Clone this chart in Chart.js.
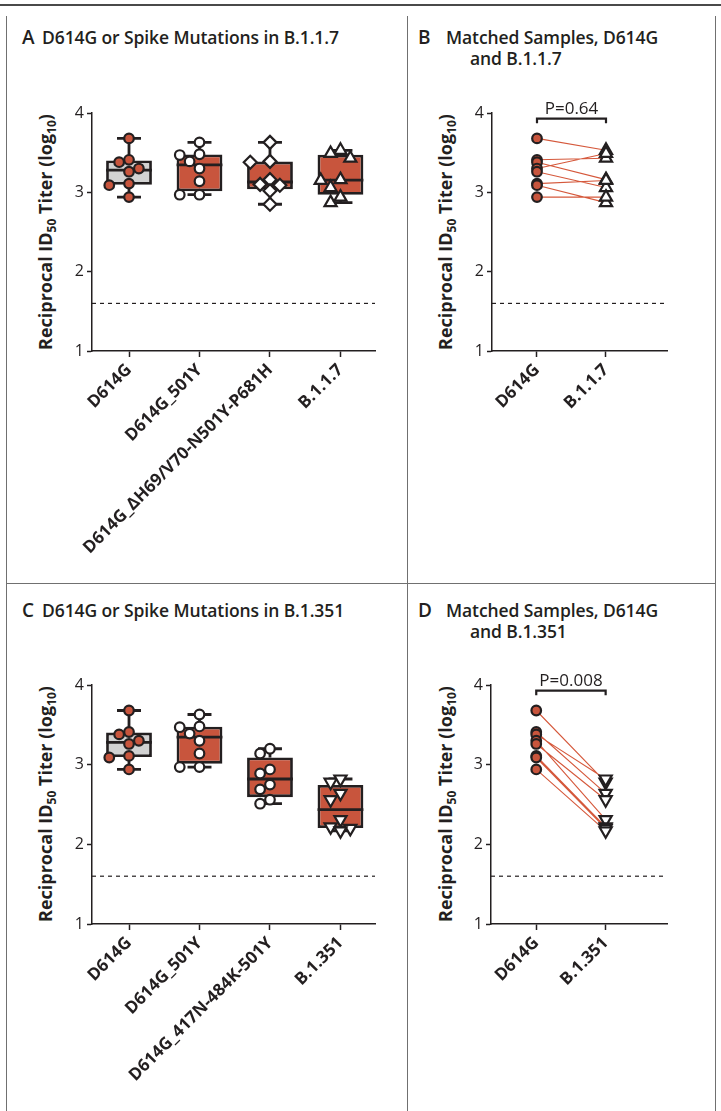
<!DOCTYPE html>
<html>
<head>
<meta charset="utf-8">
<script src="https://cdn.jsdelivr.net/npm/chart.js@4.4.1/dist/chart.umd.min.js"></script>
<style>
  html, body { margin: 0; padding: 0; background: #fff; }
  body { width: 721px; height: 1111px; position: relative; overflow: hidden; font-family: "Open Sans", sans-serif; color: #231f20; }
  .rule { position: absolute; left: 0; top: 4px; width: 721px; height: 2px; background: #4a4a4a; }
  .vline { position: absolute; top: 16px; width: 1px; height: 1095px; background: #707070; }
  .hline { position: absolute; left: 6px; top: 583px; width: 710px; height: 1px; background: #707070; }
  canvas { position: absolute; }
  .title { position: absolute; font-size: 17.5px; font-weight: 600; line-height: 21px; white-space: nowrap; letter-spacing: -0.1px; }
  .title .lt { display: inline-block; font-size: 19px; font-weight: 600; }
  .ylab { position: absolute; width: 300px; height: 22px; line-height: 22px; text-align: center;
          font-size: 18px; font-weight: 700; white-space: nowrap; transform: rotate(-90deg); }
  .ylab sub { font-size: 12px; vertical-align: -4px; line-height: 0; }
</style>
</head>
<body>
<div class="rule"></div>
<div class="vline" style="left:6px"></div>
<div class="vline" style="left:407px"></div>
<div class="vline" style="left:715px"></div>
<div class="hline"></div>

<div class="title" style="left:22px;top:27px"><span class="lt" style="width:20px">A</span>D614G or Spike Mutations in B.1.1.7</div>
<div class="title" style="left:418px;top:27px"><span class="lt" style="width:28px">B</span>Matched Samples, D614G<br><span style="padding-left:52px">and B.1.1.7</span></div>
<div class="title" style="left:22px;top:600px"><span class="lt" style="width:20px">C</span>D614G or Spike Mutations in B.1.351</div>
<div class="title" style="left:418px;top:600px"><span class="lt" style="width:28px">D</span>Matched Samples, D614G<br><span style="padding-left:52px">and B.1.351</span></div>

<div class="ylab" style="left:-105px;top:221px">Reciprocal ID<sub>50</sub> Titer (log<sub>10</sub>)</div>
<div class="ylab" style="left:295px;top:221px">Reciprocal ID<sub>50</sub> Titer (log<sub>10</sub>)</div>
<div class="ylab" style="left:-105px;top:793px">Reciprocal ID<sub>50</sub> Titer (log<sub>10</sub>)</div>
<div class="ylab" style="left:295px;top:793px">Reciprocal ID<sub>50</sub> Titer (log<sub>10</sub>)</div>

<canvas id="chartA" width="401" height="567" style="left:6px;top:16px"></canvas>
<canvas id="chartB" width="309" height="567" style="left:407px;top:16px"></canvas>
<canvas id="chartC" width="401" height="528" style="left:6px;top:583px"></canvas>
<canvas id="chartD" width="309" height="528" style="left:407px;top:583px"></canvas>

<script>
// categories
const groupsA = ['D614G', 'D614G_501Y', 'D614G_\u0394H69/V70-N501Y-P681H', 'B.1.1.7'];
const groupsC = ['D614G', 'D614G_501Y', 'D614G_417N-484K-501Y', 'B.1.351'];
const pairB = ['D614G', 'B.1.1.7'];
const pairD = ['D614G', 'B.1.351'];

// log10 reciprocal ID50 per serum sample, same sample order in every array
const d614g = [3.68, 3.41, 3.38, 3.30, 3.26, 3.11, 3.09, 2.94];
const d614g501y = [3.63, 3.48, 3.47, 3.39, 3.30, 3.14, 2.97, 2.97];
const d614gDel69 = [3.63, 3.39, 3.38, 3.16, 3.10, 3.09, 3.02, 2.85];
const b117 = [3.53, 3.43, 3.16, 3.49, 3.06, 3.15, 2.87, 2.94];
const d614g417n = [3.20, 3.14, 2.94, 2.89, 2.75, 2.69, 2.56, 2.51];
const b1351 = [2.78, 2.64, 2.82, 2.31, 2.56, 2.22, 2.20, 2.17];

const detectionLimit = 1.6;
const yTicks = [1, 2, 3, 4];
const pTextB = 'P=0.64';
const pTextD = 'P=0.008';

const ink = '#231f20';
const red = '#c8553d';
const grey = '#d2d2d2';
const pairRed = '#d5583b';

Chart.defaults.font.family = '"Open Sans", sans-serif';
Chart.defaults.color = ink;

// Prism-style percentile (n+1 basis)
function quantile(sorted, p) {
  const pos = p * (sorted.length + 1) - 1;
  const lo = Math.max(0, Math.floor(pos)), hi = Math.min(sorted.length - 1, Math.ceil(pos));
  return sorted[lo] + (sorted[hi] - sorted[lo]) * (pos - lo);
}

function boxStats(vals) {
  const s = [...vals].sort((a, b) => a - b);
  return { min: s[0], q1: quantile(s, 0.25), med: quantile(s, 0.5), q3: quantile(s, 0.75), max: s[s.length - 1] };
}

// simple beeswarm: spread points sideways when they would overlap
function swarm(vals) {
  const step = 0.14, pxX = 70, pxY = 80, diam = 10;
  const order = vals.map((v, i) => i).sort((a, b) => vals[b] - vals[a]);
  const off = vals.map(() => 0);
  const placed = [];
  order.forEach(i => {
    for (const c of [0, -1, 1, -2, 2, -3, 3]) {
      const dx = c * step;
      const hit = placed.some(p => Math.hypot((p.dx - dx) * pxX, (vals[p.i] - vals[i]) * pxY) < diam);
      if (!hit) { off[i] = dx; placed.push({ i, dx }); break; }
    }
  });
  return off;
}

function segments(list) {
  // list of [[x1,y1],[x2,y2]] -> one line dataset with gaps
  const out = [];
  list.forEach(([a, b]) => {
    out.push({ x: a[0], y: a[1] }, { x: b[0], y: b[1] }, { x: b[0], y: null });
  });
  return out;
}

function lineSet(data, extra) {
  return Object.assign({
    type: 'line', data, showLine: true, spanGaps: false, pointRadius: 0,
    borderColor: ink, borderWidth: 2.8, tension: 0, clip: false, borderCapStyle: 'butt'
  }, extra);
}

function limitSet(xMin, xMax) {
  return lineSet([{ x: xMin, y: detectionLimit }, { x: xMax, y: detectionLimit }],
    { borderWidth: 1.2, borderDash: [4, 4], order: 5 });
}

function pointSet(data, shape) {
  return {
    type: 'line', data, showLine: false, clip: false, order: 0,
    pointStyle: shape.style, pointRotation: shape.rot || 0, pointRadius: shape.r,
    pointBackgroundColor: shape.fill, pointBorderColor: ink, pointBorderWidth: 2.2
  };
}

function axes(labels, xMin, xMax, yWidth, xHeight) {
  return {
    x: {
      type: 'linear', min: xMin, max: xMax, offset: false,
      afterBuildTicks: s => { s.ticks = labels.map((_, i) => ({ value: i })); },
      afterFit: s => { s.height = xHeight; },
      ticks: {
        autoSkip: false, minRotation: 45, maxRotation: 45, padding: 3, color: ink,
        font: { size: 17, weight: 'bold' }, callback: v => labels[v]
      },
      grid: { drawOnChartArea: false, drawTicks: true, tickLength: 6, tickColor: ink, tickWidth: 1.5, offset: false },
      border: { display: true, color: ink, width: 1.5 }
    },
    y: {
      type: 'linear', min: 1, max: 4,
      afterBuildTicks: s => { s.ticks = yTicks.map(v => ({ value: v })); },
      afterFit: s => { s.width = yWidth; },
      ticks: { padding: 3, color: ink, font: { size: 16 } },
      grid: { drawOnChartArea: false, drawTicks: true, tickLength: 5, tickColor: ink, tickWidth: 1.5 },
      border: { display: true, color: ink, width: 1.5 }
    }
  };
}

const pLabel = {
  id: 'pLabel',
  afterDatasetsDraw(chart, args, opts) {
    if (!opts.text) return;
    const { ctx, scales: { x, y } } = chart;
    ctx.save();
    ctx.font = '17px "Open Sans", sans-serif';
    ctx.fillStyle = ink;
    ctx.textAlign = 'center';
    ctx.textBaseline = 'alphabetic';
    ctx.fillText(opts.text, x.getPixelForValue(0.5), y.getPixelForValue(opts.y) - 5);
    ctx.restore();
  }
};

function baseOptions(labels, frame, pText) {
  return {
    responsive: false, animation: false, events: [],
    layout: { padding: { left: 0, right: frame.padR, top: frame.padT, bottom: 0 } },
    plugins: { legend: { display: false }, tooltip: { enabled: false }, pLabel: { text: pText, y: 3.93 } },
    scales: axes(labels, frame.xMin, frame.xMax, frame.yWidth, frame.xHeight)
  };
}

function boxChart(id, labels, series, shapes, frame) {
  const stats = series.map(boxStats);
  const boxHalf = 0.325, capHalf = 0.17;
  const datasets = [];
  series.forEach((vals, i) => {
    const off = swarm(vals);
    datasets.push(pointSet(vals.map((v, k) => ({ x: i + off[k], y: v })), shapes[i]));
  });
  datasets.push(lineSet(segments(stats.map((s, i) => [[i - boxHalf, s.med], [i + boxHalf, s.med]])), { order: 1 }));
  const whisk = [];
  stats.forEach((s, i) => {
    whisk.push([[i, s.max], [i, s.q3]], [[i, s.q1], [i, s.min]],
      [[i - capHalf, s.max], [i + capHalf, s.max]], [[i - capHalf, s.min], [i + capHalf, s.min]]);
  });
  datasets.push(lineSet(segments(whisk), { order: 2 }));
  datasets.push({
    type: 'bar', order: 3,
    data: stats.map((s, i) => ({ x: i, y: [s.q1, s.q3] })),
    backgroundColor: shapes.map(sh => sh.box), borderColor: ink, borderWidth: 2.8,
    borderSkipped: false, barPercentage: 0.65, categoryPercentage: 1
  });
  datasets.push(limitSet(frame.xMin, frame.xMax));
  return new Chart(document.getElementById(id), {
    type: 'bar', data: { datasets }, options: baseOptions(labels, frame, null), plugins: [pLabel]
  });
}

function pairChart(id, labels, before, after, shapes, pText, frame) {
  const pairs = before.map((v, k) => [[0, v], [1, after[k]]]);
  const datasets = [
    pointSet(before.map(v => ({ x: 0, y: v })), shapes[0]),
    pointSet(after.map(v => ({ x: 1, y: v })), shapes[1]),
    lineSet(segments(pairs), { borderColor: pairRed, borderWidth: 1.1, order: 2 }),
    lineSet([{ x: 0, y: 3.87 }, { x: 0, y: 3.93 }, { x: 1, y: 3.93 }, { x: 1, y: 3.87 }], { borderWidth: 2.2, order: 1 }),
    limitSet(frame.xMin, frame.xMax)
  ];
  return new Chart(document.getElementById(id), {
    type: 'line', data: { datasets }, options: baseOptions(labels, frame, pText), plugins: [pLabel]
  });
}

const redCircle = { style: 'circle', r: 4.8, fill: red, box: grey };
const whiteCircle = { style: 'circle', r: 4.8, fill: '#fff', box: red };
const whiteDiamond = { style: 'rectRot', r: 6.5, fill: '#fff', box: red };
const upTriangle = { style: 'triangle', r: 7, fill: '#fff', box: red };
const downTriangle = { style: 'triangle', rot: 180, r: 7, fill: '#fff', box: red };

const frameLeftTop = { padT: 97, padR: 32, yWidth: 86, xHeight: 232, xMin: -0.525, xMax: 3.49 };
const frameLeftBottom = { padT: 102, padR: 32, yWidth: 86, xHeight: 187, xMin: -0.525, xMax: 3.49 };
const frameRightTop = { padT: 97, padR: 49, yWidth: 85, xHeight: 232, xMin: -0.652, xMax: 1.884 };
const frameRightBottom = { padT: 102, padR: 49, yWidth: 84, xHeight: 187, xMin: -0.652, xMax: 1.884 };

boxChart('chartA', groupsA, [d614g, d614g501y, d614gDel69, b117],
  [redCircle, whiteCircle, whiteDiamond, upTriangle], frameLeftTop);
pairChart('chartB', pairB, d614g, b117, [redCircle, upTriangle], pTextB, frameRightTop);
boxChart('chartC', groupsC, [d614g, d614g501y, d614g417n, b1351],
  [redCircle, whiteCircle, whiteCircle, downTriangle], frameLeftBottom);
pairChart('chartD', pairD, d614g, b1351, [redCircle, downTriangle], pTextD, frameRightBottom);
</script>
</body>
</html>
